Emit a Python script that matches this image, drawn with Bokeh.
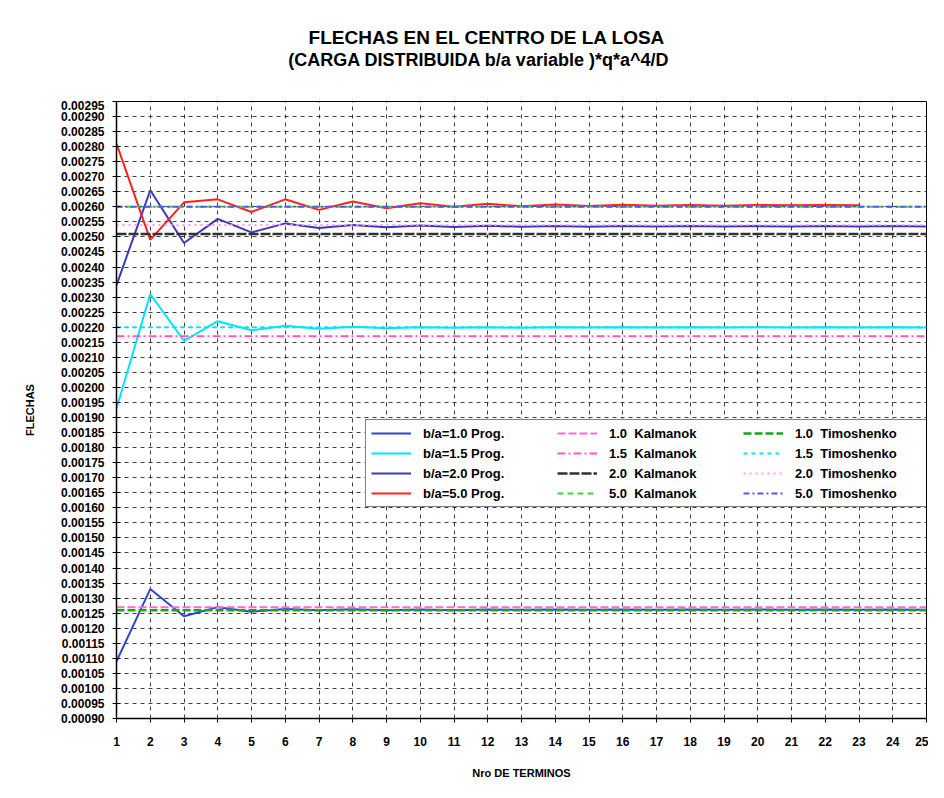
from bokeh.plotting import figure
from bokeh.layouts import column
from bokeh.models import (FixedTicker, PrintfTickFormatter, Legend, LegendItem,
                          Range1d)
from bokeh.core.properties import value
from bokeh.embed import file_html
from bokeh.resources import INLINE

# ---------------- data ----------------
terms = list(range(1, 26))
terms_50 = list(range(1, 24))

prog_10 = [0.00109, 0.00133, 0.00124, 0.00127, 0.001255, 0.001264, 0.00126, 0.001263,
           0.00126, 0.001262, 0.00126, 0.001262, 0.001261, 0.001262, 0.001261, 0.001262,
           0.001261, 0.001262, 0.001261, 0.001262, 0.001261, 0.001262, 0.001261, 0.001262,
           0.001261]
prog_15 = [0.00193, 0.00231, 0.002155, 0.00222, 0.00219, 0.002205, 0.002195, 0.002202,
           0.002197, 0.0022, 0.002198, 0.0022, 0.002198, 0.0022, 0.002199, 0.0022,
           0.002199, 0.0022, 0.002199, 0.0022, 0.002199, 0.0022, 0.002199, 0.0022,
           0.002199]
prog_20 = [0.00234, 0.002655, 0.00248, 0.00256, 0.002515, 0.002545, 0.00253, 0.00254,
           0.002532, 0.002538, 0.002533, 0.002537, 0.002534, 0.002536, 0.002534, 0.002536,
           0.002535, 0.002536, 0.002535, 0.002536, 0.002535, 0.002536, 0.002535, 0.002536,
           0.002535]
prog_50 = [0.00281, 0.00249, 0.002615, 0.002625, 0.002583, 0.002625, 0.00259, 0.002618,
           0.002595, 0.002612, 0.0026, 0.00261, 0.002602, 0.002608, 0.002603, 0.002607,
           0.002604, 0.002606, 0.002604, 0.002606, 0.002605, 0.002606, 0.002605]

kalmanok = {"1.0": 0.00127, "1.5": 0.00217, "2.0": 0.00251, "5.0": 0.00260}
timoshenko = {"1.0": 0.00126, "1.5": 0.00220, "2.0": 0.00254, "5.0": 0.00260}

y_ticks = [round(0.00090 + 0.00005 * i, 5) for i in range(42)]

title_1 = "FLECHAS EN EL CENTRO DE LA LOSA"
title_2 = "(CARGA DISTRIBUIDA b/a variable )*q*a^4/D"
x_title = "Nro DE TERMINOS"
y_title = "FLECHAS"

FONT = "Liberation Sans"

W = 928
TITLE_H = 100
H = 682
B_LEFT, B_RIGHT, B_TOP, B_BOTTOM = 116, 2, 1, 64

# ---------------- title strip ----------------
# its frame is aligned with the main plot's frame, so the x range spans the
# same pixel columns (B_LEFT .. W - B_RIGHT) and y runs downwards in pixels
tf = figure(width=W, height=TITLE_H, output_backend="svg", toolbar_location=None,
            x_range=Range1d(B_LEFT, W - B_RIGHT), y_range=Range1d(TITLE_H, 0),
            x_axis_type=None, y_axis_type=None, min_border=0)
tf.title = None
tf.outline_line_color = None
tf.grid.visible = False
tf.background_fill_color = "white"
tf.border_fill_color = "white"
tf.text(x=[486.5], y=[37], text=[title_1], text_align="center",
        text_baseline="middle", text_font=value(FONT), text_font_size="19px",
        text_font_style="bold", text_color="black")
tf.text(x=[478.5], y=[59], text=[title_2], text_align="center",
        text_baseline="middle", text_font=value(FONT), text_font_size="18px",
        text_font_style="bold", text_color="black")

# ---------------- main figure ----------------
p = figure(width=W, height=H, output_backend="svg", toolbar_location=None,
           x_range=Range1d(1, 25), y_range=Range1d(0.00090, 0.00295),
           min_border_left=B_LEFT, min_border_right=B_RIGHT, min_border_top=B_TOP,
           min_border_bottom=B_BOTTOM)
p.title = None
p.background_fill_color = "white"
p.border_fill_color = "white"
p.outline_line_color = "black"
p.outline_line_width = 1

# axes
p.xaxis.ticker = FixedTicker(ticks=terms)
p.yaxis.ticker = FixedTicker(ticks=y_ticks)
p.yaxis.formatter = PrintfTickFormatter(format="%.5f")
for ax in (p.xaxis[0], p.yaxis[0]):
    ax.axis_line_color = "black"
    ax.axis_line_width = 1.5
    ax.major_tick_line_color = "black"
    ax.minor_tick_line_color = None
    ax.major_label_text_font = FONT
    ax.major_label_text_font_style = "bold"
    ax.major_label_text_font_size = "12px"
    ax.major_label_text_color = "black"
    ax.axis_label_text_font = FONT
    ax.axis_label_text_font_style = "bold"
    ax.axis_label_text_font_size = "11px"
    ax.axis_label_text_color = "black"
p.yaxis.major_tick_out = 4
p.yaxis.major_tick_in = 4
p.yaxis.major_label_standoff = 8
p.yaxis.axis_label = y_title
p.yaxis.axis_label_standoff = 22
p.xaxis.major_tick_out = 4
p.xaxis.major_tick_in = 0
p.xaxis.major_label_standoff = 14
p.xaxis.axis_label = x_title
p.xaxis.axis_label_standoff = 18

for g in (p.xgrid[0], p.ygrid[0]):
    g.grid_line_color = "black"
    g.grid_line_dash = "4 4"
    g.grid_line_alpha = 0.75
    g.grid_line_width = 1

# ---------------- series ----------------
r_p10 = p.line(terms, prog_10, line_color="#3344cc", line_width=2)
r_p15 = p.line(terms, prog_15, line_color="#00e5ff", line_width=2)
r_p20 = p.line(terms, prog_20, line_color="#3a3ab8", line_width=2)
r_p50 = p.line(terms_50, prog_50, line_color="#ff2020", line_width=2)

n = len(terms)
r_k10 = p.line(terms, [kalmanok["1.0"]] * n, line_color="#ff66dd", line_width=2, line_dash="8 3")
r_k15 = p.line(terms, [kalmanok["1.5"]] * n, line_color="#ff55cc", line_width=2, line_dash="8 3 2 3")
r_k20 = p.line(terms, [kalmanok["2.0"]] * n, line_color="#333333", line_width=2.5, line_dash="10 2")
r_k50 = p.line(terms, [kalmanok["5.0"]] * n, line_color="#33dd33", line_width=2, line_dash="6 4")

r_t10 = p.line(terms, [timoshenko["1.0"]] * n, line_color="#11aa11", line_width=2.5, line_dash="8 3")
r_t15 = p.line(terms, [timoshenko["1.5"]] * n, line_color="#00e5ff", line_width=2, line_dash="4 4")
r_t20 = p.line(terms, [timoshenko["2.0"]] * n, line_color="#ff99ff", line_width=2, line_dash="2 4")
r_t50 = p.line(terms, [timoshenko["5.0"]] * n, line_color="#5555ee", line_width=2, line_dash="6 3 2 3")

items = [
    LegendItem(label="b/a=1.0 Prog.", renderers=[r_p10]),
    LegendItem(label="b/a=1.5 Prog.", renderers=[r_p15]),
    LegendItem(label="b/a=2.0 Prog.", renderers=[r_p20]),
    LegendItem(label="b/a=5.0 Prog.", renderers=[r_p50]),
    LegendItem(label="1.0  Kalmanok", renderers=[r_k10]),
    LegendItem(label="1.5  Kalmanok", renderers=[r_k15]),
    LegendItem(label="2.0  Kalmanok", renderers=[r_k20]),
    LegendItem(label="5.0  Kalmanok", renderers=[r_k50]),
    LegendItem(label="1.0  Timoshenko", renderers=[r_t10]),
    LegendItem(label="1.5  Timoshenko", renderers=[r_t15]),
    LegendItem(label="2.0  Timoshenko", renderers=[r_t20]),
    LegendItem(label="5.0  Timoshenko", renderers=[r_t50]),
]
legend = Legend(items=items, location=(249, 211), orientation="vertical", nrows=4,
                label_text_font=FONT, label_text_font_style="bold",
                label_text_font_size="13px", label_text_color="black",
                label_height=16, glyph_height=16, glyph_width=40,
                label_standoff=12, label_width=130, spacing=4, padding=5,
                margin=0, border_line_color="black", border_line_width=1,
                background_fill_color="white", background_fill_alpha=1)
p.add_layout(legend, "center")

layout = column(tf, p, spacing=0)
open("out.html", "w").write(file_html(layout, INLINE))
